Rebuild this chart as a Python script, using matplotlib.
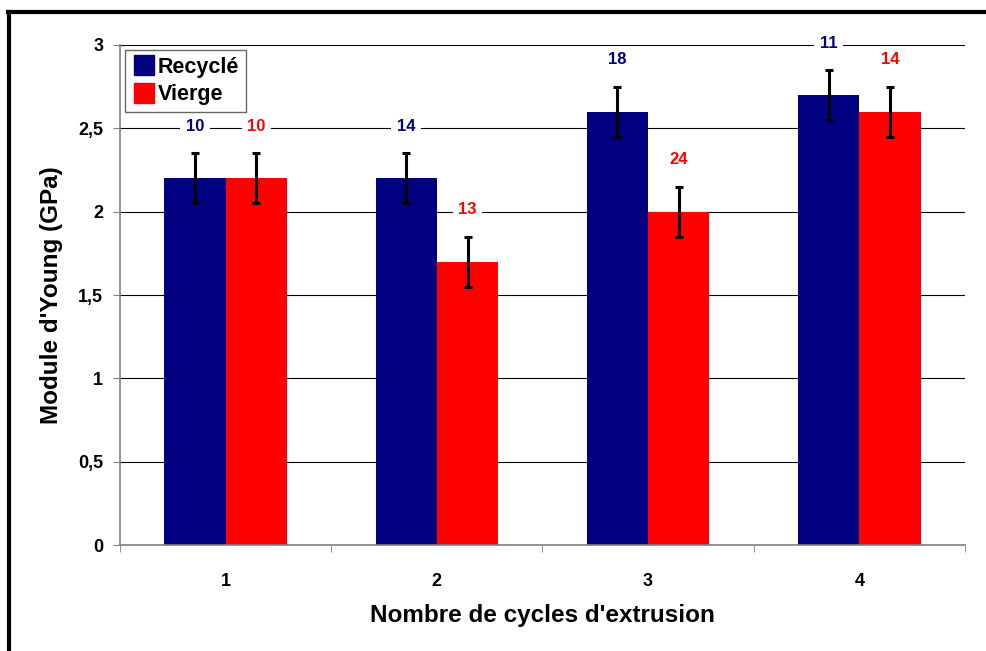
import matplotlib

matplotlib.use("Agg")
import matplotlib.pyplot as plt
import numpy as np
from matplotlib.lines import Line2D
from matplotlib.ticker import FuncFormatter, MultipleLocator

plt.rcParams["font.family"] = ["Liberation Sans", "DejaVu Sans"]
plt.rcParams["font.weight"] = "bold"

cycles = ["1", "2", "3", "4"]
recycle_values = [2.2, 2.2, 2.6, 2.7]
vierge_values = [2.2, 1.7, 2.0, 2.6]
recycle_err = [0.15, 0.15, 0.15, 0.15]
vierge_err = [0.15, 0.15, 0.15, 0.15]
recycle_counts = [10, 14, 18, 11]
vierge_counts = [10, 13, 24, 14]

NAVY = "#000080"
RED = "#FF0000"

fig = plt.figure(figsize=(9.86, 6.51), dpi=100)
ax = fig.add_axes([0.1217, 0.1628, 0.8570, 0.7681])

x = np.arange(len(cycles))
width = 0.29
ax.bar(x - width / 2, recycle_values, width, color=NAVY, label="Recyclé", zorder=2)
ax.bar(x + width / 2, vierge_values, width, color=RED, label="Vierge", zorder=2)
ax.errorbar(x - width / 2, recycle_values, yerr=recycle_err, fmt="none", ecolor="black",
            elinewidth=2.2, capsize=2.8, capthick=2.2, zorder=3)
ax.errorbar(x + width / 2, vierge_values, yerr=vierge_err, fmt="none", ecolor="black",
            elinewidth=2.2, capsize=2.8, capthick=2.2, zorder=3)

# effectifs au-dessus des barres
offset = 0.16
for xi, v, e, n in zip(x - width / 2, recycle_values, recycle_err, recycle_counts):
    ax.text(xi, v + e + offset, str(n), color=NAVY, ha="center", va="center", fontsize=12,
            fontweight="bold", zorder=4,
            bbox=dict(facecolor="white", edgecolor="none", pad=4))
for xi, v, e, n in zip(x + width / 2, vierge_values, vierge_err, vierge_counts):
    ax.text(xi, v + e + offset, str(n), color=RED, ha="center", va="center", fontsize=12,
            fontweight="bold", zorder=4,
            bbox=dict(facecolor="white", edgecolor="none", pad=4))

ax.set_xlim(-0.5, len(cycles) - 0.5)
ax.set_ylim(0, 3)
ax.yaxis.set_major_locator(MultipleLocator(0.5))
ax.yaxis.set_major_formatter(FuncFormatter(lambda v, _: f"{v:g}".replace(".", ",")))
ax.set_xticks(x)
ax.set_xticklabels(cycles)
ax.set_xticks(np.arange(-0.5, len(cycles), 1.0), minor=True)
ax.tick_params(axis="x", which="major", length=0, pad=20, labelsize=13)
ax.tick_params(axis="x", which="minor", length=5, color="#808080", direction="out")
ax.tick_params(axis="y", length=5, color="#808080", pad=7, labelsize=13)

ax.grid(axis="y", color="black", linewidth=0.8, zorder=0)
ax.set_axisbelow(True)
for side in ["top", "right"]:
    ax.spines[side].set_visible(False)
for side in ["left", "bottom"]:
    ax.spines[side].set_color("#808080")
    ax.spines[side].set_linewidth(1.2)

ax.set_xlabel("Nombre de cycles d'extrusion", fontsize=17.5, fontweight="bold", labelpad=10)
ax.set_ylabel("Module d'Young (GPa)", fontsize=17.5, fontweight="bold", labelpad=11)

handles = [
    Line2D([], [], marker="s", linestyle="none", markersize=14, color=NAVY),
    Line2D([], [], marker="s", linestyle="none", markersize=14, color=RED),
]
leg = ax.legend(handles, ["Recyclé", "Vierge"], loc="upper left", bbox_to_anchor=(0.0, 1.0),
                prop={"weight": "bold", "size": 15.5}, frameon=True, fancybox=False,
                edgecolor="#404040", handletextpad=0.1, handlelength=1.1, borderpad=0.3,
                labelspacing=0.3, borderaxespad=0.25)
leg.get_frame().set_linewidth(1.0)
leg.set_zorder(5)

# cadre extérieur (bords gauche et haut seulement)
fig.add_artist(Line2D([0.0095, 0.0095], [0.0, 0.982], transform=fig.transFigure,
                      color="black", linewidth=3))
fig.add_artist(Line2D([0.0085, 1.0], [0.982, 0.982], transform=fig.transFigure,
                      color="black", linewidth=3))

fig.savefig("out.png", dpi=100)
